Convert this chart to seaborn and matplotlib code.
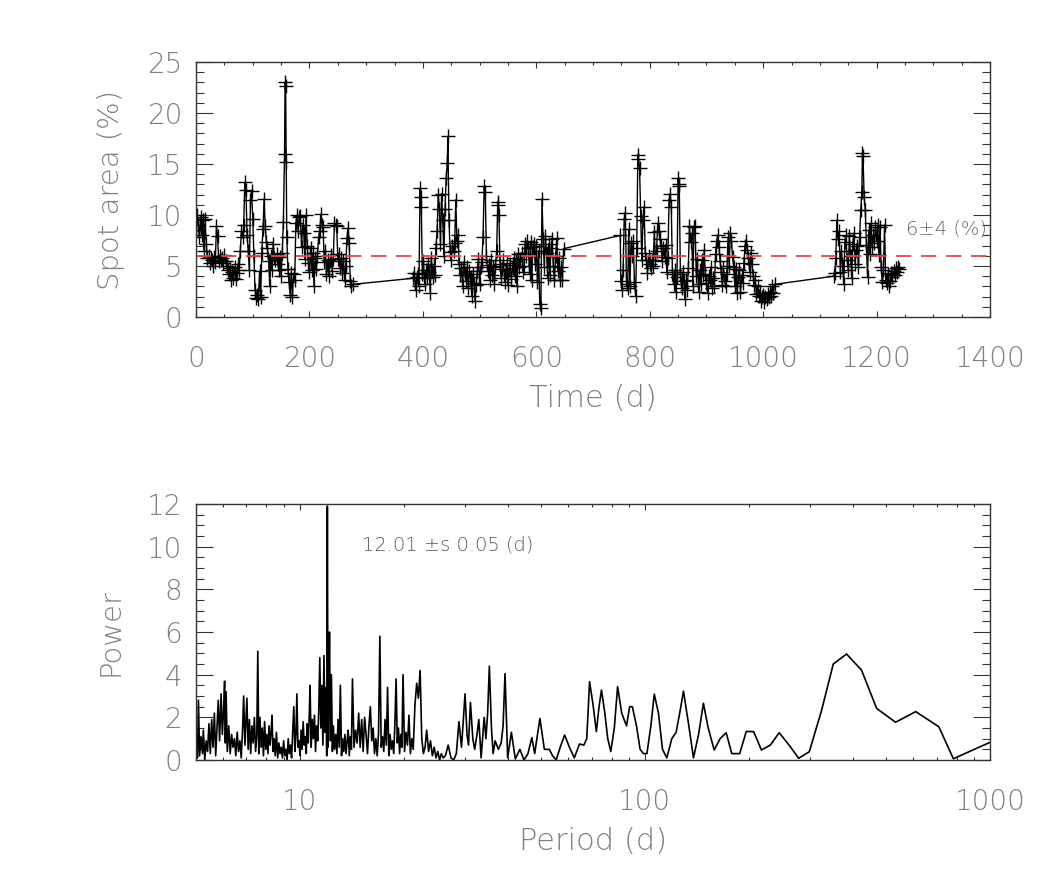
import matplotlib
matplotlib.use('Agg')
import numpy as np
import pandas as pd
import matplotlib.pyplot as plt
import seaborn as sns
from matplotlib.ticker import MultipleLocator, FixedLocator, FixedFormatter, LogLocator, NullFormatter

# Spot area time series (days, %)
time_seg1 = [0, 2, 4, 6, 8, 10, 12, 14, 16, 18,
             20, 22, 24, 26, 28, 30, 32, 34, 36, 38,
             40, 42, 44, 46, 48, 50, 52, 54, 56, 58,
             60, 62, 64, 66, 68, 70, 72, 74, 76, 78,
             80, 82, 84, 86, 88, 90, 92, 94, 96, 98,
             100, 102, 104, 106, 108, 110, 112, 114, 116, 118,
             120, 122, 124, 126, 128, 130, 132, 134, 136, 138,
             140, 142, 144, 146, 148, 150, 152, 154, 156, 157, 158, 159,
             160, 162, 164, 166, 168, 170, 172, 174, 176, 178,
             180, 182, 184, 186, 188, 190, 192, 194, 196, 198,
             200, 202, 204, 206, 208, 210, 212, 214, 216, 218,
             220, 222, 224, 226, 228, 230, 232, 234, 236, 238,
             240, 242, 244, 246, 248, 250, 252, 254, 256, 258,
             260, 262, 264, 266, 268, 270, 272, 274, 276]
area_seg1 = [8.5, 10.0, 9.0, 7.8, 9.8, 8.0, 9.5, 6.5, 9.6, 7.2,
             5.8, 6.0, 5.3, 5.8, 5.6, 5.0, 5.9, 5.4, 8.9, 7.9,
             5.5, 6.0, 5.6, 5.8, 5.3, 6.1, 5.5, 5.0, 4.6, 4.2,
             4.8, 3.6, 4.4, 3.8, 4.9, 3.7, 4.3, 5.2, 4.6, 6.5,
             8.4, 7.8, 9.0, 13.2, 12.5, 8.0, 6.5, 4.6, 11.5, 12.4,
             9.6, 6.0, 2.6, 1.9, 2.2, 1.8, 4.5, 2.0, 6.3, 8.6,
             11.6, 8.9, 7.4, 6.8, 5.5, 3.0, 6.0, 4.6, 7.2, 5.8,
             5.6, 6.2, 5.2, 4.6, 5.9, 4.0, 6.3, 9.3, 16.0, 23.0, 22.6, 15.2,
             7.8, 4.7, 3.4, 2.2, 4.3, 2.0, 4.2, 3.6, 9.2, 10.0,
             8.4, 9.8, 9.9, 6.9, 9.0, 8.2, 5.7, 10.0, 7.0, 5.3,
             4.4, 6.8, 4.6, 6.3, 3.0, 5.8, 4.7, 6.0, 7.8, 8.4,
             10.1, 9.0, 8.8, 5.4, 6.5, 4.2, 5.6, 4.0, 5.5, 6.1,
             4.5, 5.7, 9.2, 9.0, 8.9, 5.7, 6.2, 4.8, 5.8, 4.3,
             5.5, 3.6, 5.0, 7.7, 8.7, 7.3, 3.5, 3.0, 3.2]

time_seg2 = [383, 385, 387, 389, 391, 393, 395, 396, 397, 399,
             401, 403, 405, 407, 409, 411, 413, 415, 417, 419,
             421, 423, 425, 427, 429, 431, 433, 435, 437, 439,
             441, 443, 444, 446, 448, 450, 452, 454, 456, 458,
             460, 462, 464, 466, 468, 470, 472, 474, 476, 478,
             480, 482, 484, 486, 488, 490, 492, 494, 496, 498,
             500, 502, 504, 506, 508, 510, 512, 514, 516, 518,
             520, 522, 524, 526, 528, 530, 532, 533, 534, 536,
             538, 540, 542, 544, 546, 548, 550, 552, 554, 556,
             558, 560, 562, 564, 566, 568, 570, 572, 574, 576,
             578, 580, 582, 584, 586, 588, 590, 592, 594, 596,
             598, 600, 602, 604, 606, 608, 610, 612, 614, 616,
             618, 620, 622, 624, 626, 628, 630, 632, 634, 636,
             638, 640, 642, 644, 646, 648]
area_seg2 = [3.8, 4.3, 2.6, 3.9, 4.2, 3.0, 12.6, 10.8, 11.8, 4.2,
             5.5, 3.2, 4.6, 3.8, 5.2, 4.4, 2.4, 5.8, 3.9, 5.0,
             4.1, 6.8, 8.4, 12.0, 10.6, 7.2, 12.1, 9.5, 6.0, 10.6,
             13.6, 15.1, 17.7, 9.5, 6.4, 5.6, 7.0, 6.5, 7.3, 11.5,
             7.5, 8.0, 5.2, 4.1, 4.8, 3.0, 5.4, 4.3, 3.5, 4.9,
             2.8, 4.5, 3.9, 2.1, 4.2, 3.3, 1.6, 3.1, 4.5, 5.7,
             3.2, 4.9, 5.4, 7.8, 12.8, 12.3, 6.0, 4.5, 5.1, 3.6,
             5.6, 4.1, 4.9, 3.2, 5.0, 6.5, 11.3, 11.0, 10.0, 5.2,
             3.8, 4.7, 5.6, 3.4, 4.5, 5.3, 3.1, 4.6, 5.1, 3.7,
             4.8, 5.8, 4.0, 5.5, 3.0, 6.2, 4.9, 5.7, 6.3, 4.4,
             5.0, 7.2, 6.0, 7.5, 6.8, 4.2, 7.4, 3.6, 6.9, 7.2,
             5.2, 7.0, 3.4, 6.5, 1.3, 0.9, 11.6, 7.6, 4.9, 7.9,
             6.3, 3.8, 7.2, 4.1, 6.8, 7.6, 5.0, 3.6, 6.0, 7.7,
             4.5, 5.8, 3.6, 4.9, 3.6, 6.7]

time_seg3 = [748, 749, 751, 753, 755, 757, 759, 761, 763, 765,
             767, 769, 771, 773, 775, 777, 779, 780, 782, 784,
             786, 788, 790, 792, 794, 796, 798, 800, 802, 804,
             806, 808, 810, 812, 814, 816, 818, 820, 822, 824,
             826, 828, 830, 832, 834, 836, 838, 840, 842, 844,
             846, 848, 850, 851, 852, 854, 856, 858, 860, 862,
             864, 866, 868, 870, 872, 874, 876, 878, 880, 882,
             884, 886, 888, 890, 892, 894, 896, 898, 900, 902,
             904, 906, 908, 910, 912, 914, 916, 918, 920, 922,
             924, 926, 928, 930, 932, 934, 936, 938, 940, 942,
             944, 946, 948, 950, 952, 954, 956, 958, 960, 962,
             964, 966, 968, 970, 972, 974, 976, 978, 980, 982,
             984, 986, 988, 990, 992, 994, 996, 998, 1000, 1002,
             1004, 1006, 1008, 1010, 1012, 1014, 1016, 1018, 1020]
area_seg3 = [8.0, 3.5, 2.6, 4.6, 9.6, 10.2, 3.2, 2.8, 8.6, 3.0,
             7.3, 6.0, 7.5, 3.4, 2.1, 6.8, 15.9, 15.5, 14.6, 9.9,
             5.6, 9.5, 10.8, 6.3, 5.6, 4.3, 6.0, 5.2, 4.8, 5.6,
             5.0, 8.3, 5.6, 6.5, 9.2, 8.4, 7.6, 7.0, 5.5, 6.8,
             5.9, 7.1, 4.4, 5.8, 11.5, 12.1, 10.8, 4.2, 3.2, 4.6,
             2.5, 3.9, 13.6, 12.8, 13.0, 4.2, 2.8, 4.4, 3.5, 1.8,
             3.6, 2.6, 4.8, 8.9, 7.4, 8.2, 3.0, 8.8, 8.9, 4.0,
             5.7, 2.5, 4.6, 3.2, 5.6, 4.1, 6.6, 4.2, 3.3, 2.4,
             4.0, 3.6, 4.9, 2.8, 3.8, 3.0, 6.2, 7.5, 8.0, 6.9,
             5.5, 4.4, 3.1, 4.8, 3.5, 3.0, 4.2, 7.8, 5.0, 8.2,
             7.5, 5.9, 4.9, 3.0, 4.7, 2.4, 3.9, 4.6, 2.5, 4.1,
             3.3, 5.3, 7.0, 7.5, 6.6, 5.8, 4.4, 6.3, 5.2, 4.0,
             3.1, 3.6, 2.3, 3.0, 2.1, 2.4, 1.6, 2.0, 2.2, 1.5,
             2.0, 1.8, 2.3, 2.0, 2.5, 2.1, 3.0, 2.4, 3.2]

time_seg4 = [1124, 1126, 1128, 1130, 1132, 1134, 1136, 1138, 1140, 1142,
             1144, 1146, 1148, 1150, 1152, 1154, 1156, 1158, 1160, 1162,
             1164, 1166, 1168, 1170, 1172, 1174, 1175, 1176, 1178, 1180,
             1182, 1184, 1186, 1188, 1190, 1192, 1194, 1196, 1198, 1200,
             1202, 1204, 1206, 1208, 1210, 1212, 1214, 1216, 1218, 1220,
             1222, 1224, 1226, 1228, 1230, 1232, 1234, 1236, 1238, 1240]
area_seg4 = [4.0, 4.3, 5.8, 9.5, 7.6, 8.4, 4.4, 6.5, 5.0, 3.2,
             7.4, 8.0, 5.6, 4.6, 7.9, 6.0, 3.8, 7.2, 8.2, 5.2,
             6.6, 7.0, 4.9, 7.8, 10.5, 12.3, 16.1, 15.8, 11.8, 10.5,
             7.1, 3.9, 8.5, 6.2, 9.2, 6.9, 8.0, 7.3, 8.8, 7.5,
             9.0, 6.1, 8.8, 4.9, 3.4, 4.6, 9.0, 3.6, 3.3, 4.2,
             3.0, 3.5, 4.3, 3.9, 4.5, 4.1, 4.8, 4.4, 4.9, 4.7]

mean_area = 6
mean_label = '6\u00b14 (%)'

# Periodogram (period in days, power)
period = [5.00, 5.05, 5.08, 5.12, 5.17, 5.22, 5.25, 5.30, 5.35, 5.40,
          5.45, 5.50, 5.55, 5.60, 5.65, 5.70, 5.75, 5.80, 5.85, 5.91,
          5.96, 6.01, 6.05, 6.08, 6.11, 6.16, 6.22, 6.28, 6.34, 6.40,
          6.46, 6.52, 6.58, 6.64, 6.70, 6.76, 6.82, 6.87, 6.93, 7.02,
          7.08, 7.14, 7.20, 7.26, 7.32, 7.38, 7.44, 7.50, 7.55, 7.60,
          7.66, 7.72, 7.78, 7.84, 7.90, 7.96, 8.02, 8.08, 8.14, 8.20,
          8.26, 8.30, 8.36, 8.42, 8.48, 8.55, 8.62, 8.69, 8.76, 8.83,
          8.90, 8.97, 9.04, 9.11, 9.18, 9.25, 9.32, 9.39, 9.46, 9.53,
          9.60, 9.67, 9.74, 9.80, 9.87, 9.94, 10.01, 10.08, 10.15, 10.22,
          10.29, 10.36, 10.43, 10.50, 10.57, 10.64, 10.70, 10.78, 10.86, 10.94,
          11.02, 11.10, 11.18, 11.26, 11.34, 11.42, 11.50, 11.58, 11.66, 11.74,
          11.82, 11.90, 11.96, 12.01, 12.06, 12.12, 12.18, 12.26, 12.34, 12.42,
          12.50, 12.60, 12.70, 12.80, 12.90, 13.00, 13.10, 13.20, 13.30, 13.40,
          13.50, 13.60, 13.70, 13.80, 13.90, 14.00, 14.10, 14.20, 14.35, 14.50,
          14.65, 14.80, 14.95, 15.10, 15.25, 15.40, 15.55, 15.70, 15.85, 16.00,
          16.15, 16.30, 16.45, 16.60, 16.75, 16.90, 17.05, 17.20, 17.35, 17.50,
          17.65, 17.80, 17.95, 18.10, 18.25, 18.40, 18.55, 18.70, 18.85, 19.00,
          19.15, 19.30, 19.45, 19.60, 19.75, 19.90, 20.10, 20.30, 20.50, 20.70,
          20.90, 21.10, 21.30, 21.55, 21.80, 22.05, 22.30, 22.55, 22.80, 23.05,
          23.30, 23.60, 23.90, 24.20, 24.50, 24.80, 25.10, 25.40, 25.70, 26.00,
          26.40, 26.90, 27.40, 27.90, 28.40, 28.90, 29.40, 30.10, 30.50, 30.80,
          31.20, 31.70, 32.10, 32.60, 33.00, 33.50, 34.20, 34.60, 35.00, 35.40,
          35.90, 36.30, 36.80, 37.60, 38.30, 38.80, 39.30, 40.00, 41.00, 42.10,
          43.40, 44.60, 45.80, 47.00, 47.90, 49.60, 51.10, 52.80, 54.00, 55.30,
          56.80, 58.50, 60.40, 62.40, 64.60, 66.50, 67.80, 69.10, 70.70, 72.30,
          73.60, 74.80, 76.50, 78.00, 79.60, 81.50, 83.30, 85.60, 88.40, 90.30,
          91.90, 94.50, 96.80, 99.00, 101.30, 104.00, 106.40, 109.40, 112.40, 115.70,
          119.60, 123.10, 126.40, 129.30, 134.00, 138.20, 143.00, 147.70, 152.50, 158.70,
          165.10, 171.90, 178.50, 188.10, 196.60, 206.50, 217.50, 230.80, 244.90, 261.60,
          278.90, 299.40, 325.10, 351.30, 383.80, 424.00, 469.20, 532.40, 609.00, 710.40,
          783.00, 1000.00]
power = [0.6, 0.1, 2.8, 0.2, 1.1, 0.3, 1.4, 0.0, 0.9, 0.4,
         1.7, 0.3, 1.9, 0.6, 2.2, 0.2, 1.5, 2.8, 0.9, 3.1,
         1.2, 2.4, 3.7, 0.8, 3.2, 0.4, 1.6, 0.3, 1.2, 0.6,
         1.0, 0.2, 1.3, 0.4, 0.9, 0.1, 1.4, 3.0, 0.7, 2.9,
         0.5, 1.9, 0.3, 1.6, 0.8, 2.0, 0.4, 1.1, 5.1, 0.3,
         2.0, 0.6, 1.5, 0.2, 1.8, 0.5, 1.2, 0.3, 1.6, 0.7,
         1.4, 2.1, 0.4, 1.0, 0.2, 1.3, 0.1, 0.8, 0.3, 0.6,
         0.1, 0.9, 0.2, 0.5, 0.0, 1.0, 0.3, 0.7, 0.1, 1.3,
         2.5, 0.4, 1.2, 3.1, 0.6, 0.9, 0.2, 1.4, 0.5, 1.8,
         0.7, 1.1, 0.3, 1.7, 0.8, 2.0, 3.5, 0.6, 1.9, 1.0,
         2.1, 0.4, 1.6, 0.9, 2.3, 4.8, 1.5, 3.5, 0.7, 4.9,
         1.3, 3.4, 0.2, 11.9, 0.6, 2.8, 6.0, 0.9, 4.0, 0.4,
         1.6, 0.5, 1.2, 0.3, 1.9, 0.6, 3.5, 0.2, 1.0, 0.4,
         1.2, 0.3, 0.9, 1.4, 0.2, 1.1, 0.5, 3.8, 0.6, 1.4,
         0.8, 2.2, 0.6, 1.9, 0.4, 2.0, 1.2, 0.3, 1.6, 2.5,
         0.9, 1.5, 0.3, 1.0, 0.2, 1.3, 5.8, 0.6, 1.1, 0.4,
         1.9, 0.7, 3.4, 0.2, 1.2, 0.5, 0.9, 0.3, 1.7, 3.8,
         0.8, 1.5, 0.3, 1.2, 0.6, 4.0, 0.4, 1.3, 0.7, 2.1,
         0.3, 1.0, 0.5, 2.6, 3.6, 2.9, 4.2, 1.0, 0.3, 0.6,
         1.4, 0.4, 0.9, 0.2, 0.6, 0.1, 0.4, 0.0, 0.3, 0.1,
         0.2, 0.7, 0.1, 0.0, 0.3, 1.8, 0.6, 3.1, 1.2, 0.7,
         2.7, 1.0, 0.5, 1.2, 1.9, 0.1, 2.0, 1.0, 2.2, 4.4,
         1.5, 0.3, 0.9, 0.5, 0.8, 1.6, 4.05, 0.1, 1.3, 0.05,
         0.5, 0.0, 0.3, 1.05, 0.3, 1.95, 0.5, 0.5, 0.2, 0.0,
         0.6, 1.17, 0.6, 0.1, 0.75, 0.7, 1.0, 3.67, 2.6, 1.33,
         2.5, 3.28, 2.2, 1.0, 0.4, 1.5, 3.44, 2.2, 1.6, 2.5,
         2.5, 1.6, 0.5, 0.3, 0.3, 1.6, 3.09, 2.2, 0.5, 0.1,
         1.0, 1.3, 2.3, 3.23, 1.6, 0.1, 1.2, 2.66, 1.5, 0.47,
         1.0, 1.28, 0.3, 0.3, 1.34, 1.33, 0.47, 0.7, 1.28, 0.7,
         0.08, 0.39, 2.34, 4.5, 4.97, 4.22, 2.42, 1.77, 2.27, 1.56,
         0.06, 0.83]

peak_label = '12.01 \u00b1s 0.05 (d)'

spot = pd.DataFrame({'time': time_seg1 + time_seg2 + time_seg3 + time_seg4,
                     'area': area_seg1 + area_seg2 + area_seg3 + area_seg4})
pgram = pd.DataFrame({'period': period, 'power': power})

sns.set_style('ticks')
plt.rcParams['font.family'] = ['DejaVu Sans']
plt.rcParams['font.weight'] = 200
plt.rcParams['axes.labelweight'] = 200
plt.rcParams['lines.scale_dashes'] = False

text_grey = '#808080'
frame_col = '#333333'

fig = plt.figure(figsize=(10.5, 8.86), dpi=100)
ax1 = fig.add_axes([0.1867, 0.6422, 0.7562, 0.2878])
ax2 = fig.add_axes([0.1867, 0.1422, 0.7562, 0.2889])

# top: spot area vs time
sns.lineplot(data=spot, x='time', y='area', ax=ax1, color='black', linewidth=1.0,
             marker='+', markersize=10, markeredgecolor='black', markeredgewidth=1.0,
             estimator=None, sort=False)
ax1.axhline(mean_area, color='#e8424a', lw=1.3, dashes=(11, 7))
ax1.text(1252, 8.6, mean_label, fontsize=14, color='#6a6a6a', va='center', ha='left')
ax1.set_xlim(0, 1400)
ax1.set_ylim(0, 25)
ax1.xaxis.set_major_locator(MultipleLocator(200))
ax1.xaxis.set_minor_locator(MultipleLocator(50))
ax1.yaxis.set_major_locator(MultipleLocator(5))
ax1.yaxis.set_minor_locator(MultipleLocator(1))
ax1.set_xlabel('Time (d)', fontsize=22, fontweight=200, color=text_grey, labelpad=8)
ax1.set_ylabel('Spot area (%)', fontsize=21, fontweight=200, color=text_grey, labelpad=16)

# bottom: periodogram
sns.lineplot(data=pgram, x='period', y='power', ax=ax2, color='black', linewidth=1.2,
             estimator=None, sort=False)
ax2.set_xscale('log')
ax2.set_xlim(5, 1000)
ax2.set_ylim(0, 12)
ax2.xaxis.set_major_locator(FixedLocator([10, 100, 1000]))
ax2.xaxis.set_major_formatter(FixedFormatter(['10', '100', '1000']))
ax2.xaxis.set_minor_locator(LogLocator(base=10, subs=np.arange(2, 10)))
ax2.xaxis.set_minor_formatter(NullFormatter())
ax2.yaxis.set_major_locator(MultipleLocator(2))
ax2.yaxis.set_minor_locator(MultipleLocator(0.5))
ax2.text(15.1, 10.1, peak_label, fontsize=14, color='#5a5a5a', va='center', ha='left')
ax2.set_xlabel('Period (d)', fontsize=22, fontweight=200, color=text_grey, labelpad=8)
ax2.set_ylabel('Power', fontsize=21, fontweight=200, color=text_grey, labelpad=16)

for ax in (ax1, ax2):
    for sp in ax.spines.values():
        sp.set_visible(True)
        sp.set_color(frame_col)
        sp.set_linewidth(1.0)
    ax.tick_params(which='both', direction='in', top=True, right=True,
                   colors=frame_col, labelcolor=text_grey, labelsize=20)
    ax.tick_params(axis='x', which='major', length=4.5, width=0.8, pad=20)
    ax.tick_params(axis='x', which='minor', length=2.2, width=0.8)
    ax.tick_params(axis='y', which='major', length=12, width=0.8, pad=10)
    ax.tick_params(axis='y', which='minor', length=6, width=0.8)
    fig.canvas.draw()
    ylabels = ax.get_yticklabels()
    ylabels[0].set_va('bottom')
    ylabels[-1].set_va('top')

fig.savefig('out.png', dpi=100, facecolor='white')
